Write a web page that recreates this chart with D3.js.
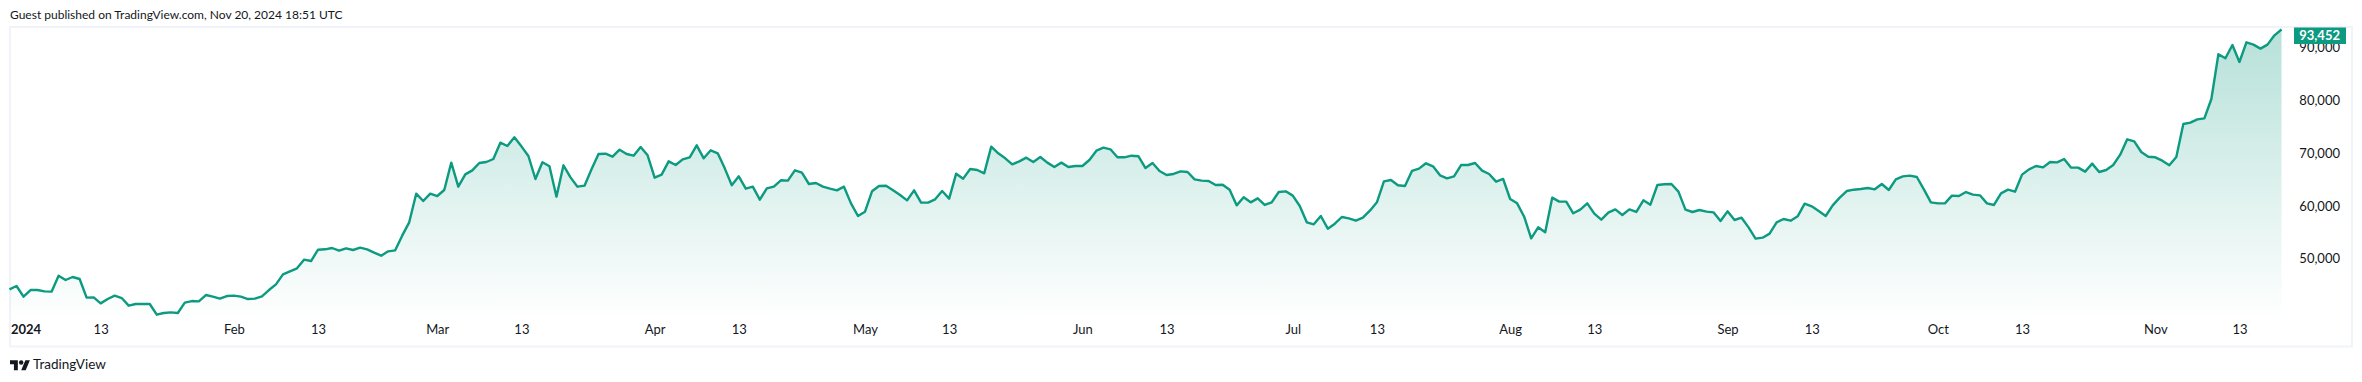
<!DOCTYPE html>
<html>
<head>
<meta charset="utf-8">
<script src="https://cdn.jsdelivr.net/npm/d3@7"></script>
<style>
  html, body { margin: 0; padding: 0; background: #fff; }
  text { font-family: Lato, sans-serif; fill: #131722; }
</style>
</head>
<body>
<div id="chart"></div>
<script>
// daily close, first value is 31 Dec 2023
var firstDay = new Date(2023, 11, 31);
var closes = [
  44170,44800,42780,44040,44040,43790,43730,46760,45940,46510,46130,42590,42650,41510,42330,42970,42520,41070,41390,41390,
  41390,39360,39680,39800,39680,41640,41950,41890,43090,42780,42400,42900,42970,42780,42330,42400,42840,44040,45120,47010,
  47580,48150,49800,49540,51690,51760,52010,51500,51950,51630,52070,51760,51120,50550,51380,51570,54350,56880,62310,60920,
  62310,61870,63010,68200,63640,65980,66740,68130,68320,68890,71990,71360,73000,71290,69460,65100,68260,67500,61750,67690,
  65410,63640,63830,66930,69840,69900,69330,70660,69840,69520,71170,69590,65350,65920,68450,67750,68830,69210,71480,69020,
  70540,69970,67120,63900,65600,63260,63640,61180,63330,63640,64850,64780,66740,66300,64150,64340,63640,63260,62950,63640,
  60480,58080,58900,62760,63770,63830,62950,62060,61050,62950,60610,60610,61240,62820,61370,66110,65160,66990,66800,66170,
  71230,69970,69020,67880,68450,69140,68320,69270,68200,67370,68200,67370,67560,67560,68700,70470,71040,70730,69210,69210,
  69520,69400,67180,68130,66620,65860,66050,66550,66430,65030,64780,64720,63960,64020,63070,60100,61620,60670,61430,60170,
  60670,62630,62760,61940,59980,56880,56500,58080,55680,56620,57890,57640,57190,57760,59090,60670,64660,64910,63900,63770,
  66620,67060,68070,67500,65790,65220,65600,67750,67750,68130,66680,66050,64590,65100,61300,60480,57950,53840,55930,54980,
  61560,60800,60800,58590,59280,60480,58520,57380,58710,59340,58270,59340,58840,61050,60230,63960,64090,64150,62700,59280,
  58840,59220,58900,58770,57130,58960,57320,57760,55930,53780,53970,54730,56880,57510,57190,58020,60420,59910,59030,58080,
  60100,61560,62820,63070,63200,63390,63140,64150,63010,65030,65600,65730,65480,63140,60670,60480,60480,61940,61870,62630,
  62130,62000,60480,60170,62380,63070,62690,65920,66930,67560,67310,68320,68260,68890,67250,67250,66490,68010,66420,66800,
  67750,69710,72620,72240,70220,69330,69210,68570,67690,69270,75530,75780,76410,76600,80270,88750,87990,90520,87290,91020,
  90580,89820,90580,92350,93452
];
var priceTicks = [50000, 60000, 70000, 80000, 90000];
var timeTicks = ["2024-01-01","2024-01-13","2024-02-01","2024-02-13","2024-03-01","2024-03-13","2024-04-01","2024-04-13",
  "2024-05-01","2024-05-13","2024-06-01","2024-06-13","2024-07-01","2024-07-13","2024-08-01","2024-08-13",
  "2024-09-01","2024-09-13","2024-10-01","2024-10-13","2024-11-01","2024-11-13"];
var headerText = "Guest published on TradingView.com, Nov 20, 2024 18:51 UTC";
var lastLabel = "93,452";

var width = 2362, height = 382;
var lineColor = "#0c9a80";
var frameColor = "#f0f3fa";
var plotBottom = 320;

var parseDay = d3.timeParse("%Y-%m-%d");
var series = closes.map(function(v, i) { return {day: d3.timeDay.offset(firstDay, i), close: v}; });

var svg = d3.select("#chart").append("svg")
    .attr("width", width)
    .attr("height", height)
    .style("display", "block");

var x = d3.scaleTime()
    .domain([firstDay, series[series.length - 1].day])
    .range([9.5, 2281.5]);
var y = d3.scaleLinear()
    .domain([50000, 90000])
    .range([258.6, 47.7]);

svg.append("text")
    .attr("x", 10)
    .attr("y", 19)
    .style("font-size", "12px")
    .text(headerText);

// frame
svg.append("rect")
    .attr("x", 10)
    .attr("y", 27)
    .attr("width", 2342)
    .attr("height", 319.5)
    .attr("fill", "none")
    .attr("stroke", frameColor)
    .attr("stroke-width", 2);

var grad = svg.append("defs").append("linearGradient")
    .attr("id", "fade")
    .attr("gradientUnits", "userSpaceOnUse")
    .attr("x1", 0).attr("x2", 0)
    .attr("y1", 30).attr("y2", plotBottom);
grad.append("stop").attr("offset", 0).attr("stop-color", lineColor).attr("stop-opacity", 0.3);
grad.append("stop").attr("offset", 1).attr("stop-color", lineColor).attr("stop-opacity", 0);

var area = d3.area()
    .x(function(d) { return x(d.day); })
    .y0(plotBottom)
    .y1(function(d) { return y(d.close); });
var line = d3.line()
    .x(function(d) { return x(d.day); })
    .y(function(d) { return y(d.close); });

svg.append("path").datum(series).attr("d", area).attr("fill", "url(#fade)");
svg.append("path").datum(series).attr("d", line)
    .attr("fill", "none")
    .attr("stroke", lineColor)
    .attr("stroke-width", 2.4)
    .attr("stroke-linejoin", "round");

// price axis
var yAxis = d3.axisRight(y)
    .tickValues(priceTicks)
    .tickSize(0)
    .tickFormat(d3.format(","));
var yG = svg.append("g")
    .attr("transform", "translate(2340,0)")
    .call(yAxis);
yG.select(".domain").remove();
yG.selectAll("text")
    .attr("x", 0)
    .attr("text-anchor", "end")
    .style("font-size", "13px")
    .style("font-family", "Lato, sans-serif");

// last price badge
svg.append("rect")
    .attr("x", 2294)
    .attr("y", 27.5)
    .attr("width", 52)
    .attr("height", 16.5)
    .attr("fill", lineColor);
svg.append("text")
    .attr("x", 2340)
    .attr("y", 40)
    .attr("text-anchor", "end")
    .style("font-size", "13px")
    .style("font-weight", 700)
    .style("fill", "#fff")
    .text(lastLabel);

// time axis
var xAxis = d3.axisBottom(x)
    .tickValues(timeTicks.map(parseDay))
    .tickSize(0)
    .tickFormat(function(d) {
      if (d.getMonth() == 0 && d.getDate() == 1) return d.getFullYear();
      return d.getDate() == 1 ? d3.timeFormat("%b")(d) : d.getDate();
    });
var xG = svg.append("g")
    .attr("transform", "translate(0,321)")
    .call(xAxis);
xG.select(".domain").remove();
xG.selectAll("text")
    .attr("y", 0)
    .attr("dy", "1em")
    .style("font-size", "13px")
    .style("font-family", "Lato, sans-serif");
xG.select("g.tick text")
    .attr("dx", 9)
    .style("font-weight", 700);

// logo
var logo = svg.append("g").attr("transform", "translate(10,358) scale(0.56)");
logo.append("path").attr("d", "M14 22H7V11H0V4h14v18zM28 22h-8l7.5-18h8L28 22z").attr("fill", "#131722");
logo.append("circle").attr("cx", 20).attr("cy", 8).attr("r", 4).attr("fill", "#131722");
svg.append("text")
    .attr("x", 33)
    .attr("y", 369)
    .style("font-size", "13.5px")
    .text("TradingView");
</script>
</body>
</html>
